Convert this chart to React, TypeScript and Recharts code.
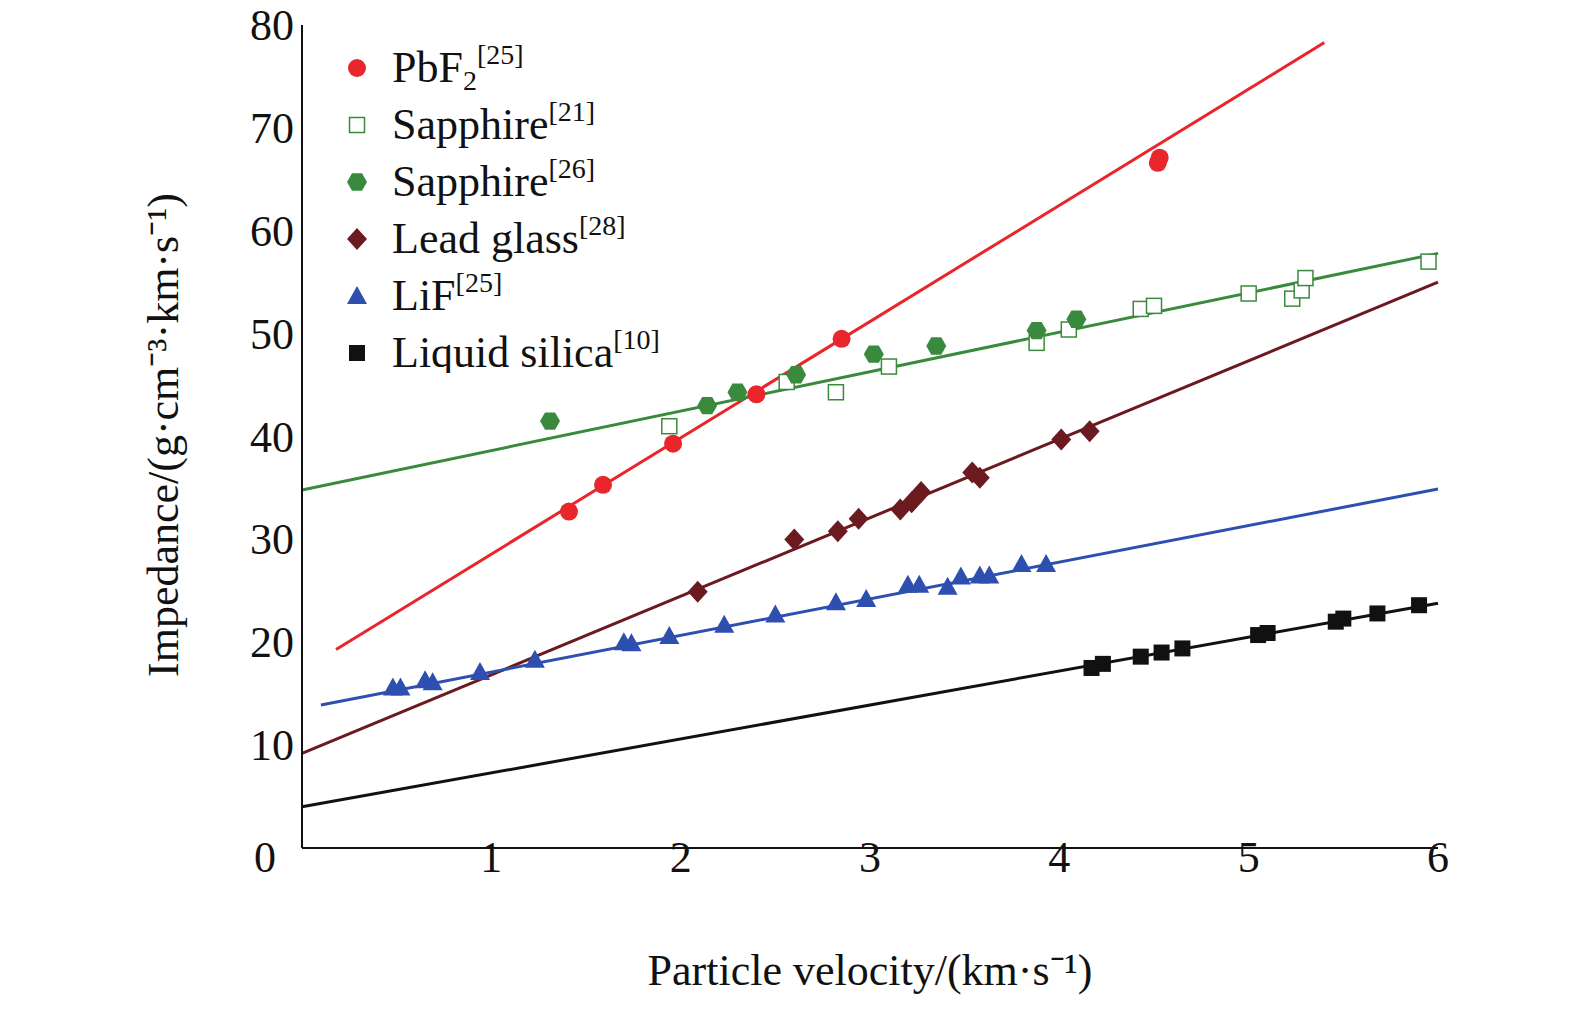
import React from 'react';
import { ComposedChart, Scatter, XAxis, YAxis, ReferenceLine } from 'recharts';

const pbf2 = [[1.41,32.7],[1.59,35.3],[1.96,39.3],[2.4,44.1],[2.85,49.5],[4.52,66.6],[4.53,67.1]];
const sapphire21 = [[1.94,41],[2.56,45.3],[2.82,44.3],[3.1,46.8],[3.88,49.1],[4.05,50.4],[4.43,52.4],[4.5,52.7],[5.0,53.9],[5.23,53.4],[5.28,54.2],[5.3,55.4],[5.95,57]];
const sapphire26 = [[1.31,41.5],[2.14,43],[2.3,44.3],[2.61,46],[3.02,48],[3.35,48.8],[3.88,50.3],[4.09,51.4]];
const leadGlass = [[2.09,24.9],[2.6,30],[2.83,30.8],[2.94,32],[3.16,32.9],[3.22,33.6],[3.27,34.6],[3.54,36.5],[3.58,36],[4.01,39.7],[4.16,40.5]];
const lif = [[0.48,15.6],[0.52,15.6],[0.65,16.3],[0.69,16.1],[0.94,17.1],[1.23,18.3],[1.7,20],[1.74,19.9],[1.94,20.6],[2.23,21.7],[2.5,22.7],[2.82,23.9],[2.98,24.2],[3.2,25.6],[3.26,25.6],[3.41,25.4],[3.48,26.4],[3.58,26.5],[3.63,26.5],[3.8,27.6],[3.93,27.6]];
const silica = [[4.17,17.5],[4.23,17.9],[4.43,18.6],[4.54,19],[4.65,19.4],[5.05,20.7],[5.1,20.9],[5.46,22],[5.5,22.3],[5.68,22.8],[5.9,23.6]];

const pbf2Fit = [[0.18,19.3],[5.4,78.3]];
const sapphireFit = [[0,34.8],[6,57.8]];
const leadFit = [[0,9.2],[6,55]];
const lifFit = [[0.1,13.9],[6,34.9]];
const silicaFit = [[0,4],[6,23.8]];

const xTicks = [0,1,2,3,4,5,6];
const yTicks = [10,20,30,40,50,60,70,80];

const RED = '#e8262b', GREEN = '#3a8a3e', DRED = '#6b1a20', BLUE = '#2e4fb0', BLACK = '#111';
const toPts = (a: number[][]) => a.map(([x, y]) => ({ x, y }));
const FONT = '"Liberation Serif", "Times New Roman", serif';

const Marker = ({ kind, cx, cy, color }: any) => {
  const r = 9;
  if (kind === 'circle') return <circle cx={cx} cy={cy} r={r} fill={color} />;
  if (kind === 'square') return <rect x={cx - 8} y={cy - 8} width={16} height={16} fill={color} />;
  if (kind === 'open') return <rect x={cx - 7.5} y={cy - 7.5} width={15} height={15} fill="#fff" stroke={color} strokeWidth={1.5} />;
  if (kind === 'diamond') return <polygon points={`${cx},${cy - 11} ${cx + 10},${cy} ${cx},${cy + 11} ${cx - 10},${cy}`} fill={color} />;
  if (kind === 'triangle') return <polygon points={`${cx},${cy - 10} ${cx + 10},${cy + 8} ${cx - 10},${cy + 8}`} fill={color} />;
  const pts = [0, 1, 2, 3, 4, 5].map(i => { const a = Math.PI / 3 * i; return `${cx + 10 * Math.cos(a)},${cy + 10 * Math.sin(a)}`; }).join(' ');
  return <polygon points={pts} fill={color} />;
};

const series = [
  { name: 'PbF', sub: '2', ref: '[25]', data: pbf2, kind: 'circle', color: RED },
  { name: 'Sapphire', ref: '[21]', data: sapphire21, kind: 'open', color: GREEN },
  { name: 'Sapphire', ref: '[26]', data: sapphire26, kind: 'hex', color: GREEN },
  { name: 'Lead glass', ref: '[28]', data: leadGlass, kind: 'diamond', color: DRED },
  { name: 'LiF', ref: '[25]', data: lif, kind: 'triangle', color: BLUE },
  { name: 'Liquid silica', ref: '[10]', data: silica, kind: 'square', color: BLACK },
];
const fits = [[pbf2Fit, RED], [sapphireFit, GREEN], [leadFit, DRED], [lifFit, BLUE], [silicaFit, BLACK]] as const;

const LegendBox = () => (
  <svg width={440} height={340} style={{ position: 'absolute', left: 342, top: 33 }}>
    {series.map((s, i) => {
      const y = 35 + i * 57;
      return (
        <g key={i}>
          <Marker kind={s.kind} cx={15} cy={y} color={s.color} />
          <text x={50} y={y + 14} fontFamily={FONT} fontSize={44} fill="#111">
            {s.name}
            {s.sub && <tspan fontSize={28} dy={8}>{s.sub}</tspan>}
            <tspan fontSize={28} dy={s.sub ? -26 : -18}>{s.ref}</tspan>
          </text>
        </g>
      );
    })}
  </svg>
);

const XTick = ({ x, y, payload }: any) => (
  <text x={payload.value === 0 ? x - 37 : x} y={y + 16} textAnchor="middle" fontFamily={FONT} fontSize={44} fill="#111">{payload.value}</text>
);
const YTick = ({ x, y, payload }: any) => (
  <text x={x} y={y + 15} textAnchor="end" fontFamily={FONT} fontSize={44} fill="#111">{payload.value}</text>
);
const YLabel = () => (
  <text x={0} y={0} transform="translate(178,435) rotate(-90)" textAnchor="middle" fontFamily={FONT} fontSize={44} fill="#111">Impedance/(g·cm⁻³·km·s⁻¹)</text>
);

export default function App() {
  return (
    <div style={{ margin: '-8px 0 0 -8px', position: 'relative', width: 1575, height: 1014 }}>
      <ComposedChart width={1575} height={1014} margin={{ top: 25, right: 137, left: 222, bottom: 106 }}>
        <XAxis type="number" dataKey="x" domain={[0, 6]} ticks={xTicks} height={60} tick={<XTick />} tickLine={false} axisLine={{ stroke: '#111', strokeWidth: 2 }} allowDataOverflow
          label={{ value: 'Particle velocity/(km·s⁻¹)', position: 'insideBottom', dy: 82, fontFamily: FONT, fontSize: 44, fill: '#111' }} />
        <YAxis type="number" dataKey="y" domain={[0, 80]} ticks={yTicks} width={80} tick={<YTick />} tickLine={false} axisLine={{ stroke: '#111', strokeWidth: 2 }} allowDataOverflow
          label={<YLabel />} />
        {fits.map(([f, c], i) => (
          <ReferenceLine key={i} segment={toPts(f as any)} stroke={c as string} strokeWidth={3} ifOverflow="visible" />
        ))}
        {series.map((s, i) => (
          <Scatter key={i} data={toPts(s.data)} isAnimationActive={false} shape={(p: any) => <Marker kind={s.kind} cx={p.cx} cy={p.cy} color={s.color} />} />
        ))}
      </ComposedChart>
      <LegendBox />
    </div>
  );
}
